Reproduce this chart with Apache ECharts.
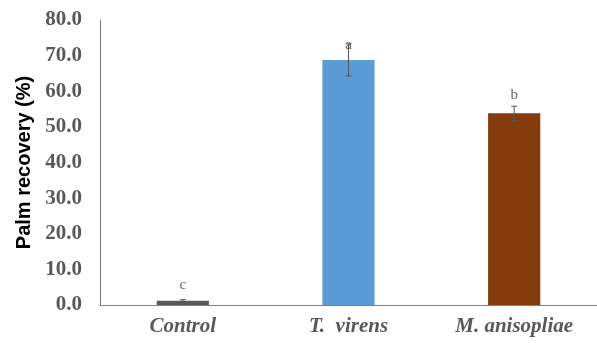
<!DOCTYPE html>
<html><head><meta charset="utf-8">
<script src="https://cdn.jsdelivr.net/npm/echarts@6/dist/echarts.min.js"></script>
<style>html,body{margin:0;padding:0;background:#fff}#c{width:597px;height:343px}</style>
</head><body><div id="c"></div>
<script>
var categories = ['Control', 'T.  virens', 'M. anisopliae'];
var values = [1.2, 68.8, 53.8];
var errors = [0.3, 4.5, 2.0];
var letters = ['c', 'a', 'b'];
var letterValues = [5.6, 73.0, 58.9];
var colors = ['#595959', '#5B9BD5', '#843C0C'];
var yTicks = [0, 10, 20, 30, 40, 50, 60, 70, 80];

var chart = echarts.init(document.getElementById('c'));
chart.setOption({
  backgroundColor: '#fff',
  animation: false,
  grid: {left: 100, right: -7, top: 20, bottom: 38, containLabel: false},
  xAxis: {
    type: 'category', data: categories,
    axisLine: {lineStyle: {color: '#808080', width: 1}},
    axisTick: {show: false},
    axisLabel: {margin: 11, color: '#595959', fontFamily: 'Liberation Serif', fontWeight: 'bold', fontStyle: 'italic', fontSize: 21}
  },
  yAxis: {
    type: 'value', min: yTicks[0], max: yTicks[yTicks.length - 1], interval: 10,
    name: 'Palm recovery (%)', nameLocation: 'middle', nameGap: 64,
    nameTextStyle: {color: '#000', fontFamily: 'Liberation Sans', fontWeight: 'bold', fontSize: 20},
    axisLine: {show: true, lineStyle: {color: '#808080', width: 1}},
    axisTick: {show: false},
    splitLine: {show: false},
    axisLabel: {margin: 18, color: '#595959', fontFamily: 'Liberation Serif', fontWeight: 'bold', fontSize: 21,
      formatter: function (v) { return v.toFixed(1); }}
  },
  series: [
    {
      type: 'bar', barWidth: '31.5%',
      data: values.map(function (v, i) { return {value: v, itemStyle: {color: colors[i]}}; })
    },
    {
      type: 'custom',
      data: values.map(function (v, i) { return [i, v, errors[i]]; }),
      renderItem: function (params, api) {
        var i = api.value(0), v = api.value(1), e = api.value(2);
        var top = api.coord([i, v + e]), bot = api.coord([i, v - e]);
        var hw = 3;
        var st = {stroke: '#555555', lineWidth: 1};
        return {type: 'group', children: [
          {type: 'line', shape: {x1: top[0], y1: top[1], x2: bot[0], y2: bot[1]}, style: st},
          {type: 'line', shape: {x1: top[0] - hw, y1: top[1], x2: top[0] + hw, y2: top[1]}, style: st},
          {type: 'line', shape: {x1: bot[0] - hw, y1: bot[1], x2: bot[0] + hw, y2: bot[1]}, style: st}
        ]};
      },
      z: 5
    },
    {
      type: 'scatter', symbolSize: 0,
      data: letterValues.map(function (v, i) { return [i, v]; }),
      label: {show: true, position: 'inside', color: '#404040', fontFamily: 'Liberation Serif', fontSize: 15,
        formatter: function (p) { return letters[p.dataIndex]; }},
      z: 6
    }
  ]
});
</script></body></html>
